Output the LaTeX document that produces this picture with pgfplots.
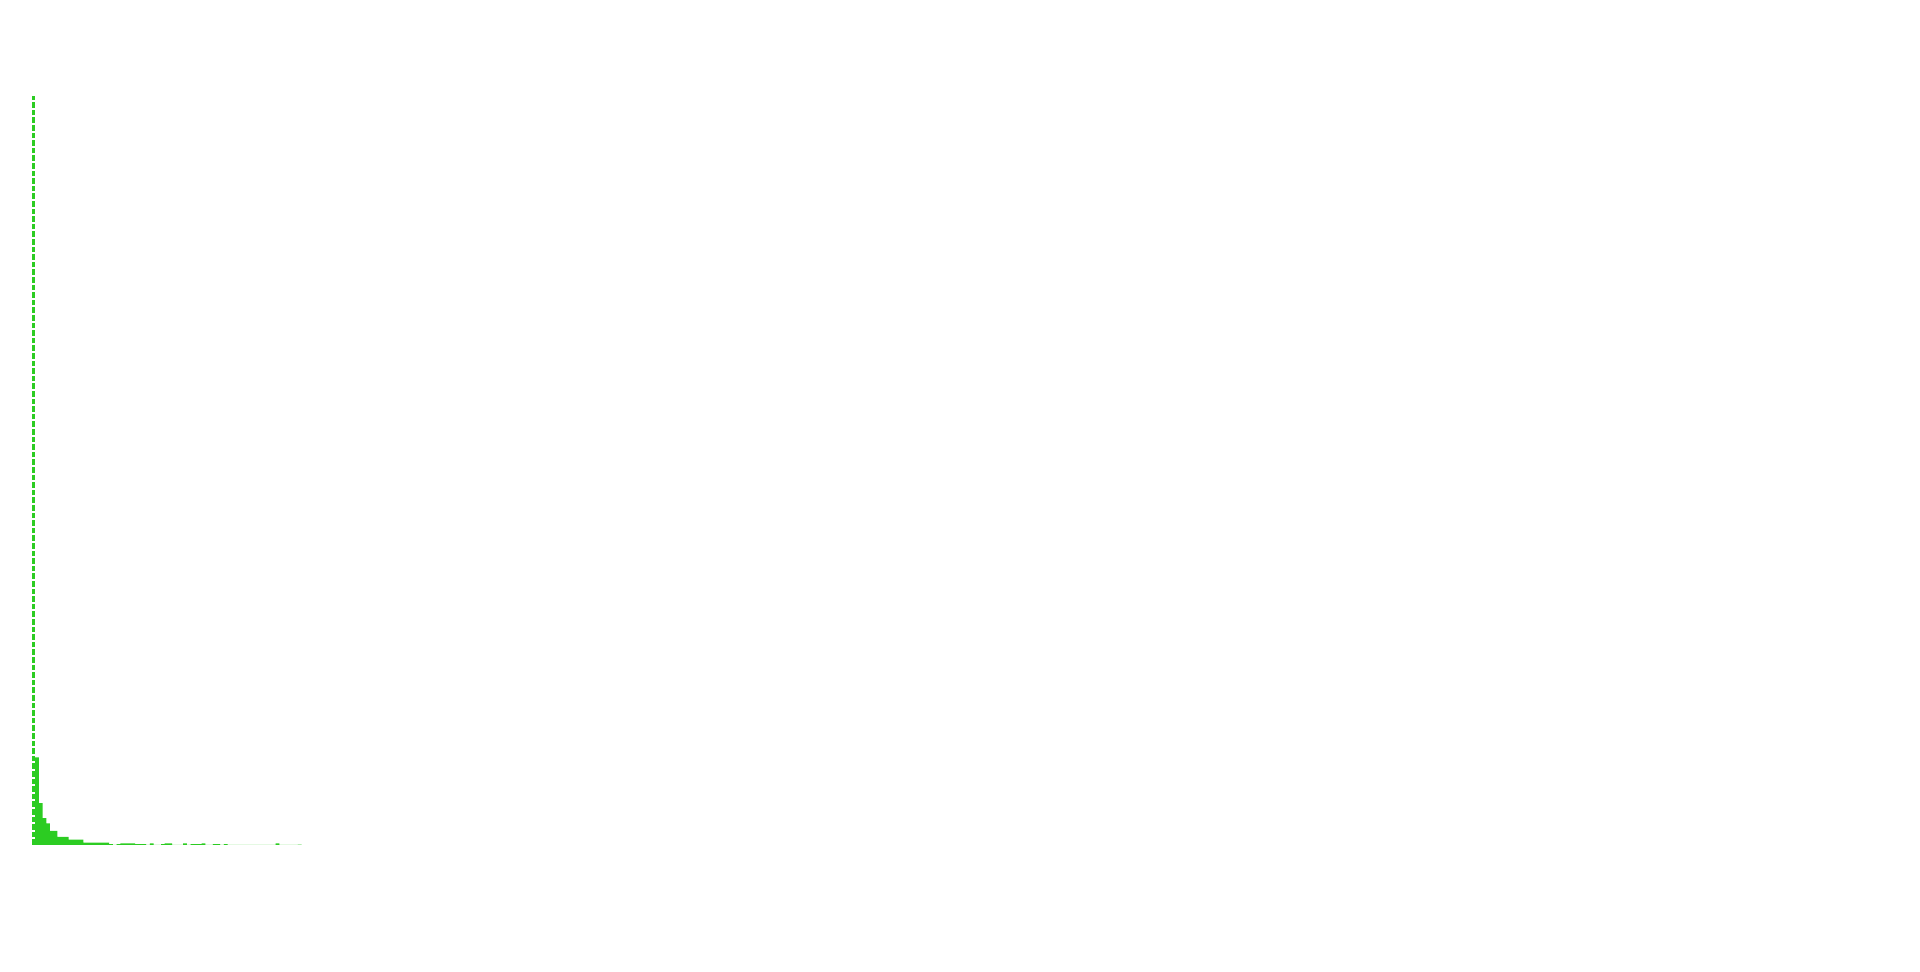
\documentclass[border=0pt]{standalone}
\usepackage{pgfplots}
\pgfplotsset{compat=1.18}
\definecolor{barg}{RGB}{44,204,34}
\begin{document}
\begin{tikzpicture}
\path[use as bounding box] (0pt,0pt) rectangle (960pt,486pt);
\begin{axis}[
  at={(15.75pt,63.5pt)}, anchor=south west,
  scale only axis, width=925pt, height=374.5pt,
  xmin=-1, xmax=499, ymin=0, ymax=1000,
  hide axis, clip=false,
]
\addplot[ybar interval, fill=barg, draw=none] coordinates {
(0,117) (1,56) (2,36) (3,29) (4,19) (5,19) (6,11) (7,11) (8,11)
(9,7) (10,7) (11,7) (12,7)
(13,3) (14,3) (15,3) (16,3) (17,3) (18,3) (19,3)
(20,1) (21,0) (22,1) (23,2) (24,2) (25,2) (26,2) (27,1) (28,1) (29,1)
(30,0) (31,2) (32,0) (33,0) (34,1) (35,2) (36,2) (37,0) (38,0) (39,0)
(40,2) (41,0) (42,1) (43,1) (44,1) (45,2) (46,0) (47,0) (48,1) (49,1)
(50,0) (51,1) (52,0) (53,0) (54,0) (55,0) (56,0) (57,0) (58,0) (59,0)
(60,0) (61,0) (62,0) (63,0) (64,0) (65,2) (66,0) (67,0) (68,0) (69,0)
(70,0) (71,0.5) (72,0)
};
\addplot[barg, line width=1.7pt, dash pattern=on 2.8pt off 1pt] coordinates {(-0.5,0) (-0.5,1000)};
\end{axis}
\end{tikzpicture}
\end{document}
